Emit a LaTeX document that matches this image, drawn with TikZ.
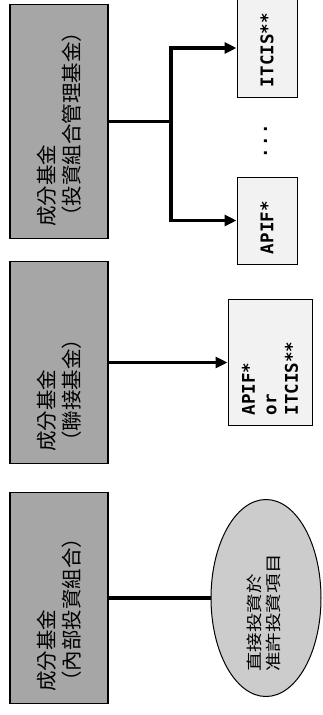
\documentclass[tikz,border=0pt]{standalone}
\usepackage{fontspec}
\newfontfamily\cjk{Noto Sans CJK TC}
\newfontfamily\cjkwide[FakeStretch=1.22]{Noto Sans CJK TC}
\newfontfamily\monob{DejaVu Sans Mono}
\usetikzlibrary{shapes.geometric,arrows.meta}
\tikzset{
  fundbox/.style={draw=black, line width=1.2pt, fill=black!35, rotate=90,
    inner xsep=12pt, inner ysep=0pt, minimum height=98pt, align=left,
    font=\cjk\fontsize{20.5}{25}\selectfont},
  targetbox/.style={draw=black, line width=1pt, fill=black!5, rotate=90,
    inner xsep=10pt, inner ysep=0pt, align=left,
    font=\monob\bfseries\fontsize{17.5}{21.5}\selectfont},
  projell/.style={ellipse, draw=black, line width=1pt, fill=black!20, rotate=90,
    inner sep=0pt, minimum width=197pt, minimum height=110pt,
    font=\cjkwide\fontsize{16}{18}\selectfont},
  conn/.style={line width=3.5pt, line join=miter},
  arr/.style={conn, -{Triangle[length=12pt,width=11pt]}},
}
\begin{document}
\begin{tikzpicture}[x=1pt,y=-1pt]
\useasboundingbox (0,0) rectangle (322,715);

% left-hand component fund boxes
\node[fundbox, minimum width=234pt, text width=210pt] (b1) at (59,121.5)
  {成分基金\\（投資組合管理基金）};
\node[fundbox, minimum width=202pt, text width=178pt] (b2) at (59,362.5)
  {成分基金\\（聯接基金）};
\node[fundbox, minimum width=211pt, text width=187pt] (b3) at (59,598)
  {成分基金\\（內部投資組合）};

% right-hand targets
\node[targetbox, minimum width=98pt, minimum height=60pt, text width=78pt] (r1) at (267,48)
  {ITCIS**};
\node[targetbox, minimum width=87pt, minimum height=60pt, text width=67pt] (r2) at (267,220.5)
  {APIF*};
\node[rotate=90, anchor=base, font=\monob\bfseries\fontsize{17.5}{20}\selectfont,
  inner sep=0pt] (dots) at (267,141) {.\kern1.5pt.\kern1.5pt.};
\node[targetbox, minimum width=126pt, minimum height=84pt, text width=106pt] (r3) at (270,362.5)
  {APIF*\\or\\ITCIS**};
\node[projell] (el) at (266,598)
  {\makebox[0pt][c]{\begin{tabular}{@{}l@{}}直接投資於\\准許投資項目\end{tabular}\hspace{30pt}}};

% connectors
\coordinate (j) at (171,0);
\draw[conn] (b1.south) -- (b1.south -| j);
\draw[arr] (b1.south -| j) |- (r1.north);
\draw[arr] (b1.south -| j) |- (r2.north);
\draw[arr] (b2.south) -- (r3.north);
\draw[conn] (b3.south) -- (el.north);
\end{tikzpicture}
\end{document}
